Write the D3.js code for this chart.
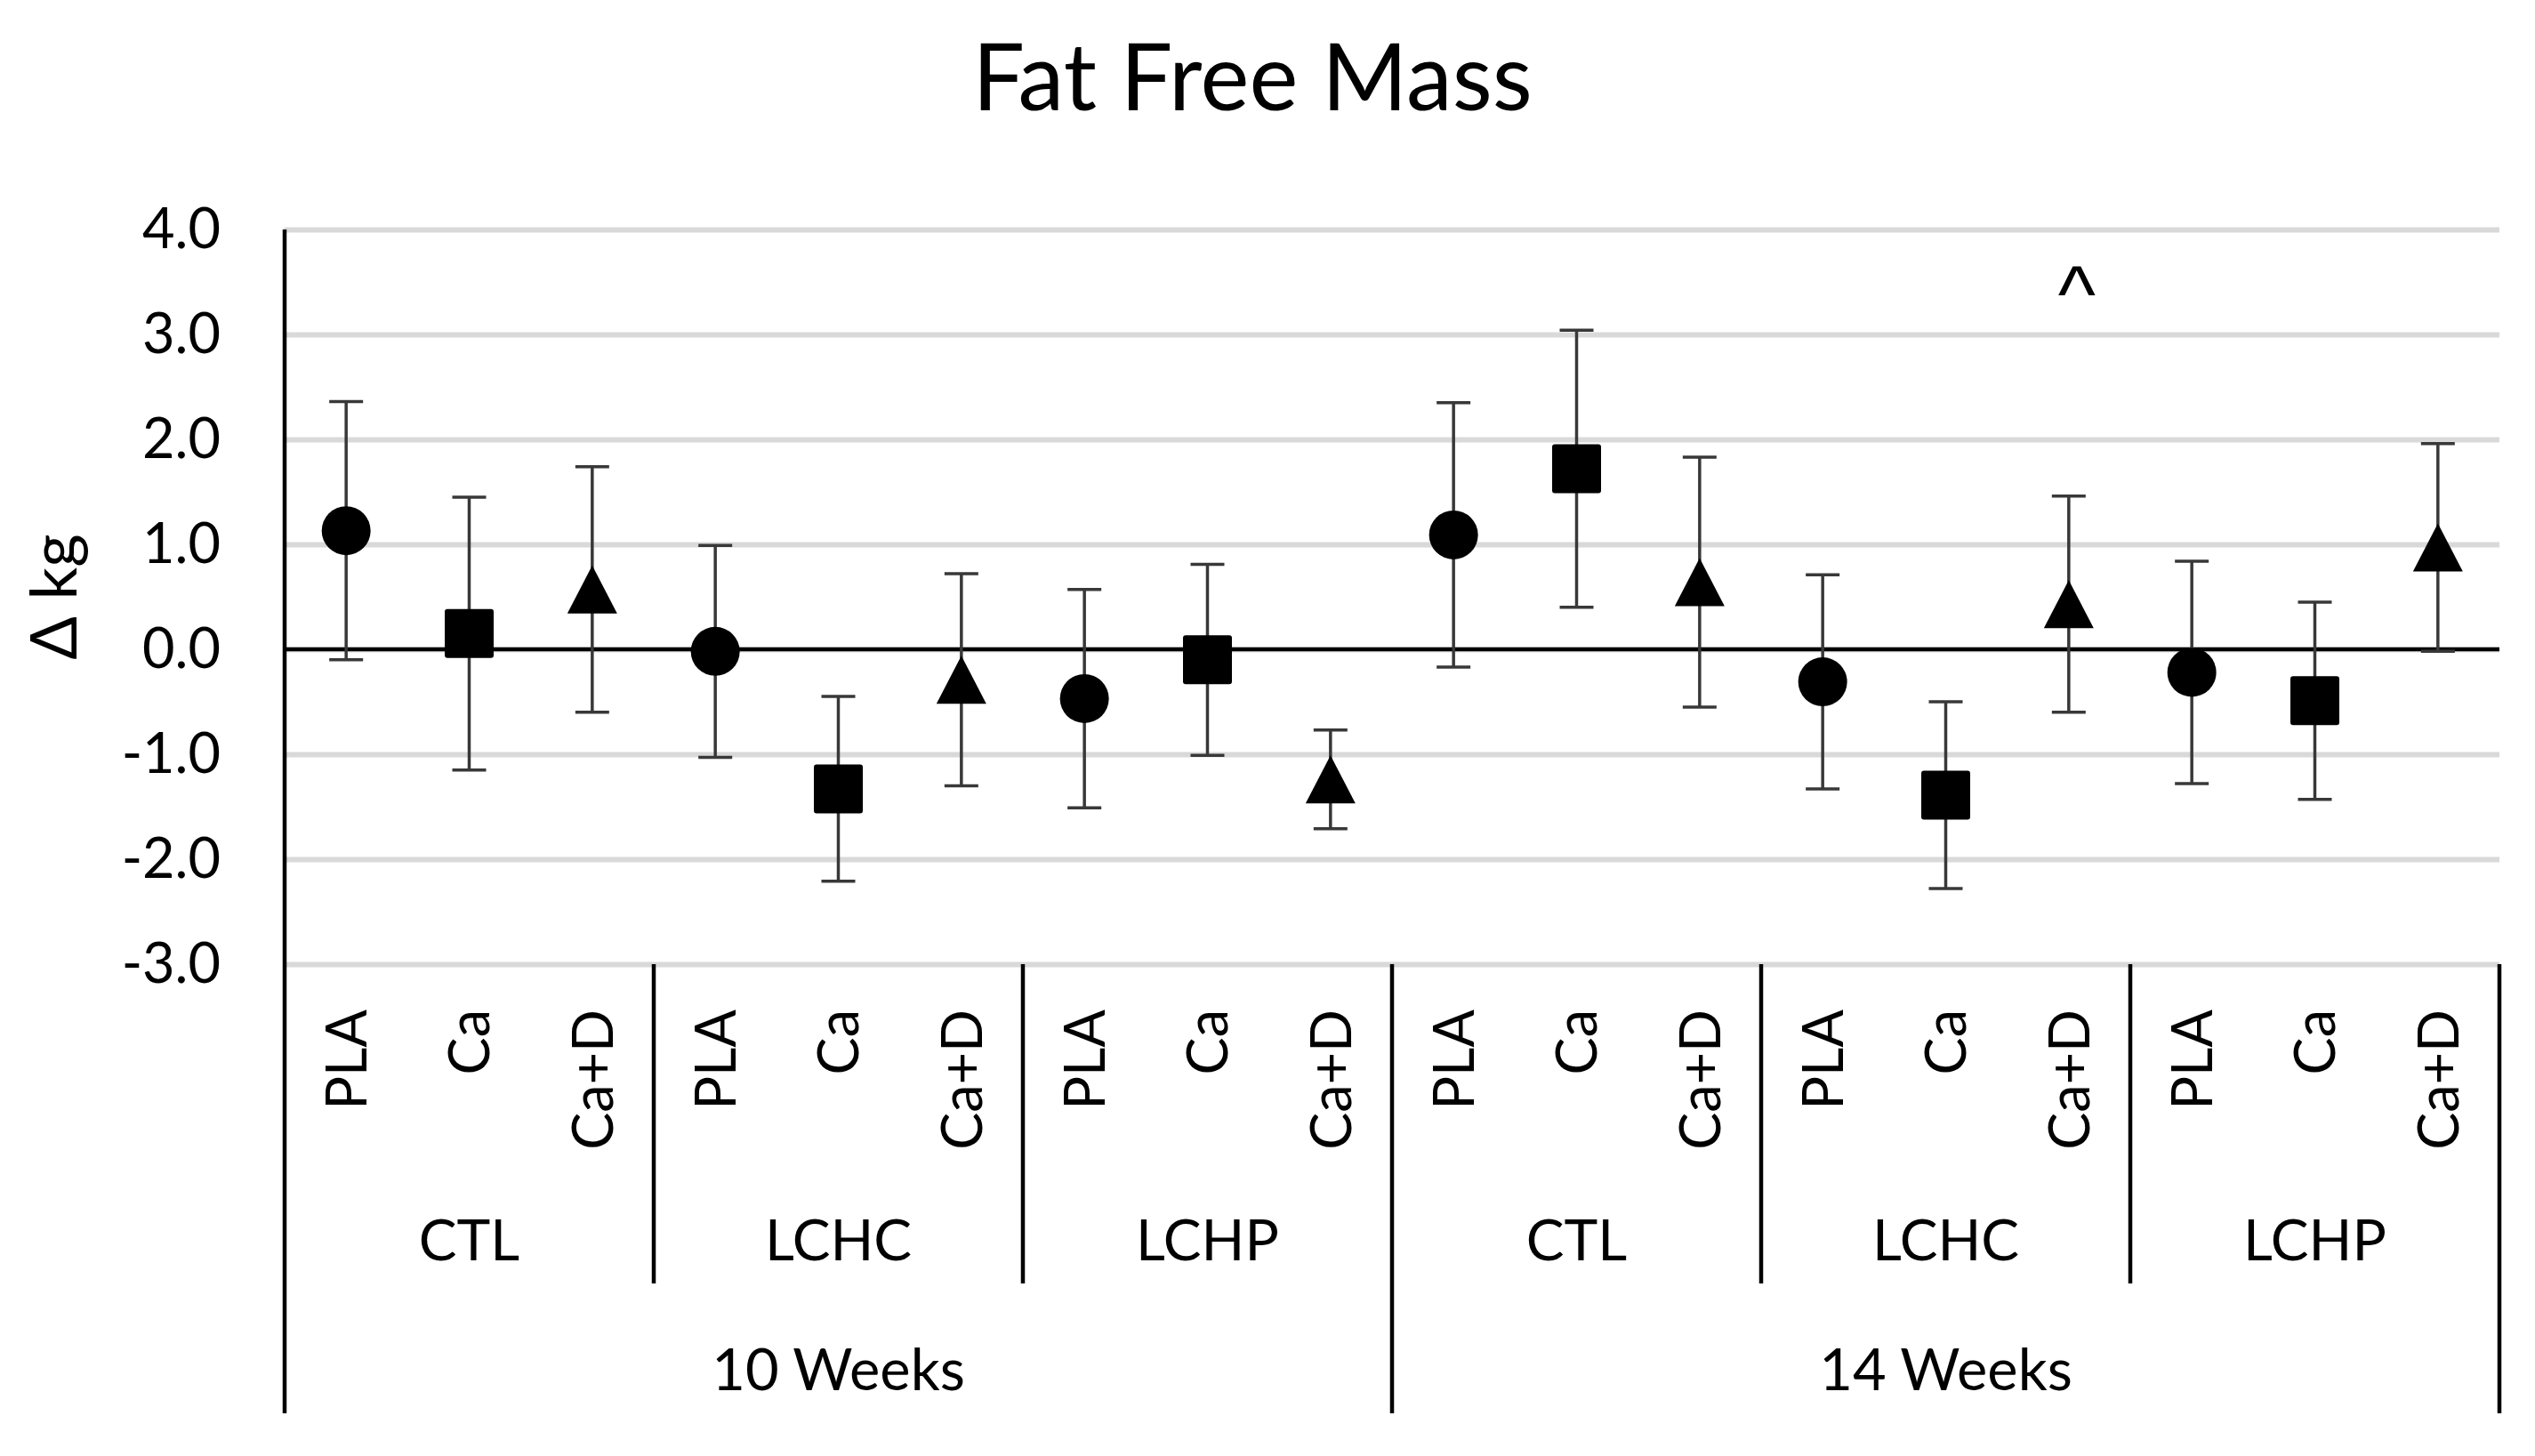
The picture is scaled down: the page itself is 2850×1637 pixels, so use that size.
<!DOCTYPE html>
<html>
<head>
<meta charset="utf-8">
<script src="https://cdn.jsdelivr.net/npm/d3@7"></script>
<style>
  body { margin: 0; background: #fff; }
  text { font-family: Lato, "Open Sans", sans-serif; fill: #000; }
</style>
</head>
<body>
<svg width="2850" height="1637"></svg>
<script>
weeks = ['10 Weeks', '14 Weeks']
diets = ['CTL', 'LCHC', 'LCHP']
supplements = ['PLA', 'Ca', 'Ca+D']
// mean change, one per supplement within diet within week
means = [1.13, 0.15, 0.57, -0.02, -1.33, -0.29, -0.47, -0.10, -1.24,
         1.09, 1.72, 0.64, -0.31, -1.39, 0.43, -0.22, -0.49, 0.97]
errors = [1.23, 1.30, 1.17, 1.01, 0.88, 1.01, 1.04, 0.91, 0.47,
          1.26, 1.32, 1.19, 1.02, 0.89, 1.03, 1.06, 0.94, 0.99]
marks = ['', '', '', '', '', '', '', '', '',
         '', '', '', '', '', '^', '', '', '']
yTicks = [-3, -2, -1, 0, 1, 2, 3, 4]

X_LEFT = 320
X_RIGHT = 2810
Y_TOP = 258
Y_BOTTOM = 1084
CAT_LABEL_Y = 1135
DIET_LABEL_Y = 1417
WEEK_LABEL_Y = 1563
DIET_LINE_END = 1443
WEEK_LINE_END = 1589
MARK_VALUE = 3.12

cats = []
weeks.forEach(function (w) {
  diets.forEach(function (d) {
    supplements.forEach(function (s) { cats.push({week: w, diet: d, supp: s}) })
  })
})
cats.forEach(function (c, i) { c.i = i; c.mean = means[i]; c.err = errors[i]; c.mark = marks[i] })

x = d3.scaleBand().domain(d3.range(cats.length)).range([X_LEFT, X_RIGHT])
y = d3.scaleLinear().domain([-3, 4]).range([Y_BOTTOM, Y_TOP])
bw = x.bandwidth()
cx = function (i) { return x(i) + bw / 2 }
edge = function (i) { return i < cats.length ? x(i) : x.range()[1] }

svg = d3.select('svg')
svg.append('rect').attr('width', 2850).attr('height', 1637).attr('fill', '#fff')

// title
svg.append('text')
  .attr('x', 1408).attr('y', 124)
  .attr('text-anchor', 'middle')
  .style('font-size', '104px')
  .text('Fat Free Mass')

// y axis label
svg.append('text')
  .attr('transform', 'translate(86,' + (Y_TOP + Y_BOTTOM) / 2 + ') rotate(-90)')
  .attr('text-anchor', 'middle')
  .style('font-size', '72px')
  .text('Δ kg')

// gridlines + tick labels
yAxis = svg.append('g')
  .attr('transform', 'translate(' + X_LEFT + ',0)')
  .call(d3.axisLeft(y)
    .tickValues(yTicks)
    .tickSize(-(X_RIGHT - X_LEFT))
    .tickPadding(72)
    .tickFormat(function (d) { return d.toFixed(1) }))
yAxis.select('.domain').remove()
yAxis.selectAll('line').attr('stroke', '#d9d9d9').attr('stroke-width', 6)
yAxis.selectAll('text')
  .style('font-size', '63px')
  .style('font-family', 'Lato, sans-serif')
  .attr('fill', '#000')

// zero line
svg.append('line')
  .attr('x1', X_LEFT).attr('x2', X_RIGHT)
  .attr('y1', y(0)).attr('y2', y(0))
  .attr('stroke', '#000').attr('stroke-width', 4.5)

// vertical axis line
svg.append('line')
  .attr('x1', X_LEFT).attr('x2', X_LEFT)
  .attr('y1', Y_TOP).attr('y2', WEEK_LINE_END)
  .attr('stroke', '#000').attr('stroke-width', 4.5)

// category separators
seps = d3.range(0, cats.length + 1, supplements.length).filter(function (i) { return i > 0 })
svg.selectAll('.sep')
  .data(seps)
  .enter()
  .append('line')
  .attr('class', 'sep')
  .attr('x1', function (i) { return edge(i) })
  .attr('x2', function (i) { return edge(i) })
  .attr('y1', Y_BOTTOM)
  .attr('y2', function (i) { return i % (diets.length * supplements.length) == 0 ? WEEK_LINE_END : DIET_LINE_END })
  .attr('stroke', '#000').attr('stroke-width', 4.5)

// supplement labels
svg.selectAll('.cat')
  .data(cats)
  .enter()
  .append('text')
  .attr('class', 'cat')
  .attr('transform', function (d) { return 'translate(' + cx(d.i) + ',' + CAT_LABEL_Y + ') rotate(-90)' })
  .attr('text-anchor', 'end')
  .attr('dy', '0.36em')
  .style('font-size', '63px')
  .text(function (d) { return d.supp })

// diet labels
dietGroups = d3.range(weeks.length * diets.length)
svg.selectAll('.diet')
  .data(dietGroups)
  .enter()
  .append('text')
  .attr('class', 'diet')
  .attr('x', function (g) { return x(g * 3) + bw * 1.5 })
  .attr('y', DIET_LABEL_Y)
  .attr('text-anchor', 'middle')
  .style('font-size', '64px')
  .text(function (g) { return diets[g % diets.length] })

// week labels
svg.selectAll('.week')
  .data(weeks)
  .enter()
  .append('text')
  .attr('class', 'week')
  .attr('x', function (w, i) { return x(i * 9) + bw * 4.5 })
  .attr('y', WEEK_LABEL_Y)
  .attr('text-anchor', 'middle')
  .style('font-size', '65px')
  .text(function (w) { return w })

// error bars
eb = svg.selectAll('.eb')
  .data(cats)
  .enter()
  .append('g')
  .attr('class', 'eb')
  .attr('stroke', '#383838')
  .attr('stroke-width', 3.5)
eb.append('line')
  .attr('x1', function (d) { return cx(d.i) }).attr('x2', function (d) { return cx(d.i) })
  .attr('y1', function (d) { return y(d.mean + d.err) })
  .attr('y2', function (d) { return y(d.mean - d.err) })
eb.append('line')
  .attr('x1', function (d) { return cx(d.i) - 19 }).attr('x2', function (d) { return cx(d.i) + 19 })
  .attr('y1', function (d) { return y(d.mean + d.err) })
  .attr('y2', function (d) { return y(d.mean + d.err) })
eb.append('line')
  .attr('x1', function (d) { return cx(d.i) - 19 }).attr('x2', function (d) { return cx(d.i) + 19 })
  .attr('y1', function (d) { return y(d.mean - d.err) })
  .attr('y2', function (d) { return y(d.mean - d.err) })

// markers
pts = svg.selectAll('.pt')
  .data(cats)
  .enter()
  .append('g')
  .attr('class', 'pt')
  .attr('transform', function (d) { return 'translate(' + cx(d.i) + ',' + y(d.mean) + ')' })
pts.filter(function (d) { return d.supp == 'PLA' })
  .append('circle').attr('r', 27.5).attr('fill', '#000')
pts.filter(function (d) { return d.supp == 'Ca' })
  .append('rect')
  .attr('x', -27.5).attr('y', -27.5).attr('width', 55).attr('height', 55)
  .attr('rx', 3).attr('fill', '#000')
pts.filter(function (d) { return d.supp == 'Ca+D' })
  .append('path').attr('d', 'M0,-27L28,27L-28,27Z').attr('fill', '#000')

// significance marks
svg.selectAll('.mark')
  .data(cats.filter(function (d) { return d.mark }))
  .enter()
  .append('text')
  .attr('class', 'mark')
  .attr('x', function (d) { return cx(d.i) + 9 })
  .attr('y', y(MARK_VALUE))
  .attr('text-anchor', 'middle')
  .style('font-family', '"Liberation Sans", sans-serif')
  .style('font-size', '90px')
  .text(function (d) { return d.mark })
</script>
</body>
</html>
